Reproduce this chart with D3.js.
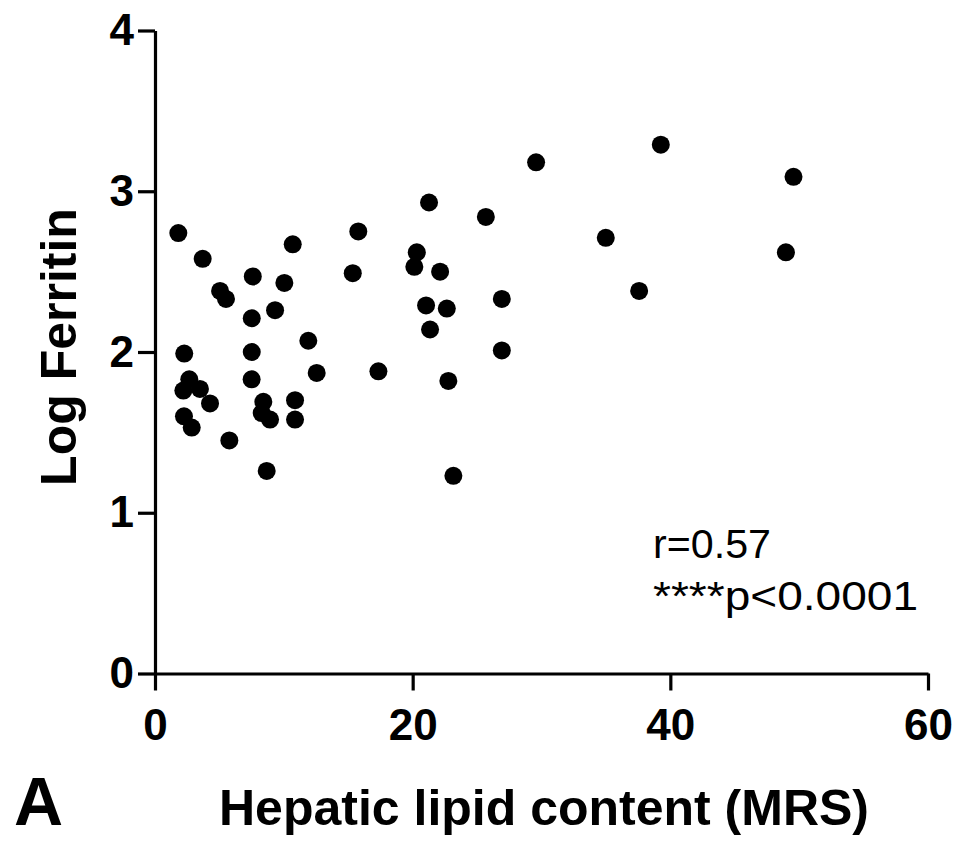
<!DOCTYPE html>
<html>
<head>
<meta charset="utf-8">
<script src="https://cdn.jsdelivr.net/npm/d3@7"></script>
<style>
  html, body { margin: 0; padding: 0; background: #fff; }
  svg { display: block; }
  text { font-family: "Liberation Sans", Arial, Helvetica, sans-serif; fill: #000; }
</style>
</head>
<body>
<svg id="chart" width="960" height="846"></svg>
<script>
// Hepatic lipid content (MRS, %) for each subject
const lipidContent = [
  1.81, 2.27, 2.66, 2.20, 3.49, 4.27, 2.25, 2.85, 3.70, 5.05,
  5.51, 5.77, 7.59, 7.51, 7.51, 7.50, 8.41, 8.28, 8.93, 8.67,
  10.69, 10.04, 9.32, 10.87, 10.87, 11.90, 12.55, 15.78, 15.35, 17.34,
  20.32, 20.13, 21.27, 22.13, 21.04, 22.65, 21.35, 22.77, 23.16, 25.68,
  26.92, 26.92, 29.58, 34.99, 37.58, 39.26, 48.97, 49.56
];
// Log-transformed serum ferritin for the same subjects
const logFerritin = [
  2.74, 1.99, 1.83, 1.76, 1.77, 1.68, 1.60, 1.53, 2.58, 2.38,
  2.33, 1.45, 2.47, 2.21, 2.00, 1.83, 1.69, 1.62, 1.58, 1.26,
  2.67, 2.43, 2.26, 1.70, 1.58, 2.07, 1.87, 2.75, 2.49, 1.88,
  2.62, 2.53, 2.93, 2.50, 2.29, 2.27, 2.14, 1.82, 1.23, 2.84,
  2.33, 2.01, 3.18, 2.71, 2.38, 3.29, 2.62, 3.09
];
const xTicks = [0, 20, 40, 60];
const yTicks = [0, 1, 2, 3, 4];
const xTitle = "Hepatic lipid content (MRS)";
const yTitle = "Log Ferritin";
const statLines = ["r=0.57", "****p<0.0001"];
const panelLabel = "A";

const points = lipidContent.map((x, i) => ({ x, y: logFerritin[i] }));

const svg = d3.select("#chart");

const x = d3.scaleLinear().domain([0, 60]).range([155, 928]);
const y = d3.scaleLinear().domain([0, 4]).range([673.5, 30.5]);

// Y axis
const yAxis = svg.append("g")
  .attr("transform", `translate(${x(0)},0)`)
  .call(d3.axisLeft(y).tickValues(yTicks).tickFormat(d3.format("d"))
    .tickSize(17).tickSizeOuter(0).tickPadding(4));

// X axis
const xAxis = svg.append("g")
  .attr("transform", `translate(0,${y(0)})`)
  .call(d3.axisBottom(x).tickValues(xTicks).tickFormat(d3.format("d"))
    .tickSize(17).tickSizeOuter(0).tickPadding(18));

[yAxis, xAxis].forEach(g => {
  g.select(".domain").attr("stroke", "#000").attr("stroke-width", 3.2);
  g.selectAll(".tick line").attr("stroke", "#000").attr("stroke-width", 3.2);
  g.selectAll(".tick text")
    .attr("fill", "#000")
    .style("font-family", '"Liberation Sans", Arial, sans-serif')
    .style("font-weight", "bold")
    .style("font-size", "44px");
});

// Data points
svg.append("g")
  .selectAll("circle")
  .data(points)
  .join("circle")
  .attr("cx", d => x(d.x))
  .attr("cy", d => y(d.y))
  .attr("r", 9)
  .attr("fill", "#000");

// Axis titles
svg.append("text")
  .attr("x", 544)
  .attr("y", 825)
  .attr("text-anchor", "middle")
  .style("font-weight", "bold")
  .style("font-size", "50px")
  .text(xTitle);

svg.append("text")
  .attr("transform", "translate(76,347) rotate(-90)")
  .attr("text-anchor", "middle")
  .style("font-weight", "bold")
  .style("font-size", "50px")
  .text(yTitle);

// Panel label
svg.append("text")
  .attr("x", 14)
  .attr("y", 825)
  .style("font-weight", "bold")
  .style("font-size", "68px")
  .text(panelLabel);

// Correlation statistics
const statWidths = [118, 265];
svg.append("g")
  .selectAll("text")
  .data(statLines)
  .join("text")
  .attr("x", 653)
  .attr("y", (d, i) => 558 + i * 52)
  .attr("textLength", (d, i) => statWidths[i])
  .attr("lengthAdjust", "spacingAndGlyphs")
  .style("font-size", "41px")
  .text(d => d);
</script>
</body>
</html>
